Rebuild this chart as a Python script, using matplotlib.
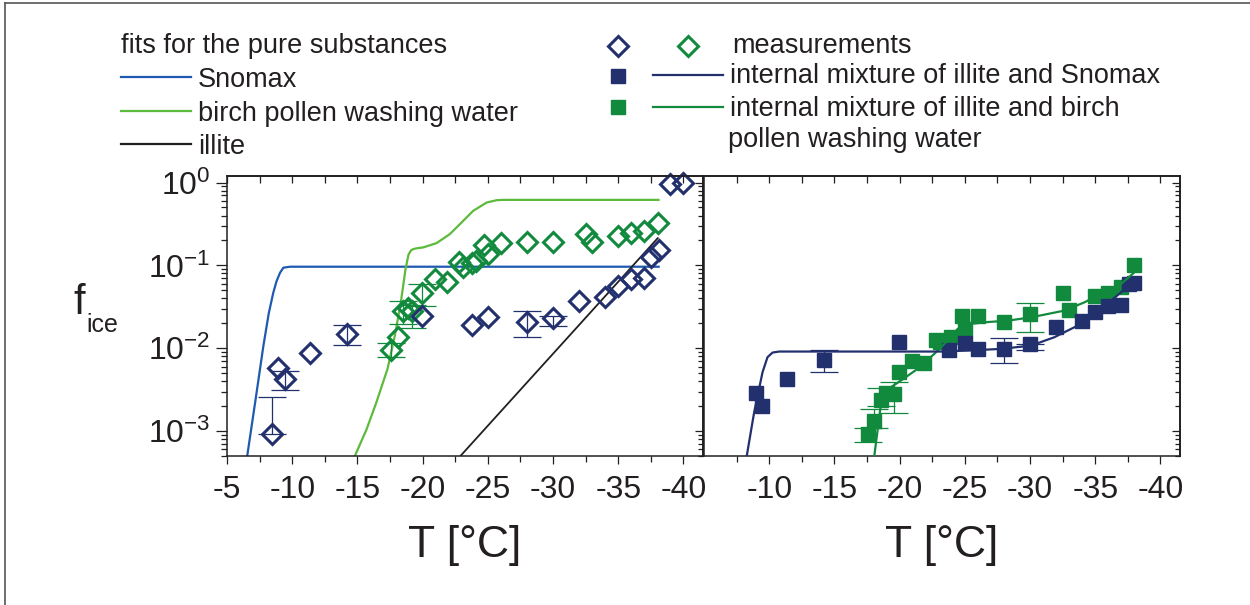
import numpy as np
import matplotlib
matplotlib.use('Agg')
import matplotlib.pyplot as plt
from matplotlib.lines import Line2D
from matplotlib.ticker import LogLocator, FixedLocator, NullFormatter

plt.rcParams['font.family'] = ['Liberation Sans', 'DejaVu Sans']
plt.rcParams['mathtext.fontset'] = 'custom'
plt.rcParams['mathtext.rm'] = 'Liberation Sans'
plt.rcParams['mathtext.default'] = 'regular'
plt.rcParams['axes.unicode_minus'] = False

TXT = '#231f20'
NAVY = '#23306e'
GREEN = '#128a3e'
SNOMAX = '#1e5bb0'
BIRCH = '#5cba3c'

## measurements, pure substances (left panel)
snomax_T = [-8.45, -8.9, -9.43, -11.35, -14.24, -19.97, -23.8, -24.98, -27.98, -29.97,
            -31.99, -33.99, -35.0, -35.99, -37.0, -37.5, -38.1, -38.98, -40.0]
snomax_f = [9.1e-4, 5.8e-3, 4.2e-3, 8.7e-3, 0.0149, 0.0245, 0.0191, 0.0241, 0.021, 0.023,
            0.0372, 0.0419, 0.0569, 0.0685, 0.0704, 0.125, 0.153, 0.97, 0.99]
snomax_errT = [-8.45, -9.43, -14.24, -27.98, -29.97]
snomax_lo = [9.1e-4, 3.1e-3, 0.0108, 0.0136, 0.0188]
snomax_hi = [2.6e-3, 5.3e-3, 0.0191, 0.0279, 0.0247]

birch_T = [-17.56, -18.08, -18.46, -18.9, -19.15, -19.97, -20.94, -21.9, -22.78, -23.07,
           -23.8, -24.06, -24.7, -25.0, -26.0, -27.98, -29.97, -32.5, -33.0, -35.0,
           -36.0, -37.0, -38.03]
birch_f = [0.0095, 0.0138, 0.0284, 0.0303, 0.0284, 0.046, 0.0685, 0.0636, 0.111, 0.0946,
           0.106, 0.114, 0.176, 0.137, 0.186, 0.193, 0.193, 0.239, 0.193, 0.228,
           0.243, 0.257, 0.324]
birch_errT = [-17.56, -18.46, -19.15, -19.97]
birch_lo = [7.8e-3, 0.0197, 0.0174, 0.0327]
birch_hi = [0.0117, 0.0375, 0.0330, 0.0594]

## fits for the pure substances (log10 f_ice)
fit_snomax_T = [-6.4, -6.56, -7.2, -7.79, -8.2, -8.55, -8.8, -9.07, -9.32, -9.83, -38.1]
fit_snomax_lg = [-3.46, -3.29, -2.61, -1.972, -1.58, -1.329, -1.19, -1.088, -1.028, -1.016, -1.016]
fit_birch_T = [-14.6, -14.85, -15.7, -16.46, -17.31, -17.87, -18.33, -18.69, -18.92, -19.1,
               -19.28, -19.6, -20.05, -21.07, -22.09, -22.86, -23.88, -24.91, -25.68, -26.19, -38.09]
fit_birch_lg = [-3.41, -3.285, -2.98, -2.651, -2.249, -1.847, -1.446, -1.044, -0.87, -0.82,
                -0.803, -0.792, -0.783, -0.731, -0.622, -0.502, -0.341, -0.241, -0.213, -0.209, -0.209]
fit_illite_T = [-22.6, -38.03]
fit_illite_lg = [-3.353, -0.671]

## internal mixtures (right panel)
mixS_T = [-8.98, -9.44, -11.36, -14.22, -19.97, -23.81, -25.01, -25.98, -27.98, -30.03,
          -32.0, -33.99, -35.01, -36.01, -36.98, -37.57, -38.0]
mixS_f = [2.9e-3, 2.0e-3, 4.2e-3, 7.3e-3, 0.012, 9.4e-3, 0.0116, 9.8e-3, 9.8e-3, 0.0113,
          0.0179, 0.0211, 0.0272, 0.0327, 0.0333, 0.0596, 0.0612]
mixS_errT = [-14.22, -27.98, -30.03]
mixS_lo = [5.1e-3, 6.7e-3, 9.4e-3]
mixS_hi = [9.4e-3, 0.0133, 0.0113]

mixB_T = [-17.6, -18.06, -18.57, -18.95, -19.54, -19.97, -20.95, -21.84, -22.79, -23.1,
          -23.94, -24.76, -25.01, -25.98, -27.98, -30.03, -32.51, -33.02, -35.01, -36.01,
          -36.98, -38.0]
mixB_f = [9.3e-4, 1.32e-3, 2.4e-3, 2.9e-3, 2.8e-3, 5.2e-3, 7.1e-3, 6.7e-3, 0.0124, 0.0118,
          0.0136, 0.0248, 0.0171, 0.0248, 0.0206, 0.0259, 0.0464, 0.0292, 0.0431, 0.0464,
          0.0543, 0.102]
mixB_errT = [-17.6, -18.06, -18.57, -19.54, -30.03]
mixB_lo = [7.4e-4, 1.1e-3, 2.0e-3, 1.65e-3, 0.0158]
mixB_hi = [1.1e-3, 1.86e-3, 3.3e-3, 3.9e-3, 0.0348]

fit_mixS_T = [-8.16, -8.85, -9.49, -9.87, -10.26, -10.77, -23.17, -25.22, -27.78, -30.08,
              -31.87, -33.91, -35.45, -36.98, -38.0]
fit_mixS_lg = [-3.41, -2.77, -2.289, -2.108, -2.052, -2.04, -2.04, -2.028, -2.008, -1.968,
               -1.867, -1.707, -1.526, -1.325, -1.165]
fit_mixB_T = [-18.0, -18.26, -18.52, -18.82, -19.34, -20.1, -21.38, -22.66, -23.68, -24.45,
              -25.22, -26.5, -28.29, -30.08, -32.63, -34.17, -35.45, -36.98, -38.0]
fit_mixB_lg = [-3.373, -3.052, -2.731, -2.57, -2.47, -2.39, -2.249, -2.068, -1.908, -1.767,
               -1.711, -1.687, -1.667, -1.627, -1.546, -1.446, -1.345, -1.225, -1.084]

xticks_left = [-5, -10, -15, -20, -25, -30, -35, -40]
xticks_right = [-10, -15, -20, -25, -30, -35, -40]
yticks = [1e-3, 1e-2, 1e-1, 1e0]
ylabels = [r'$10^{-3}$', r'$10^{-2}$', r'$10^{-1}$', r'$10^{0}$']

W, H = 1250, 605
fig = plt.figure(figsize=(12.5, 6.05), dpi=100)


def fx(x):
    return x / W


def fy(y):
    return 1 - y / H


ax1 = fig.add_axes([fx(227), fy(456), 476 / W, 280 / H])
ax2 = fig.add_axes([fx(704), fy(456), 476 / W, 280 / H])


def errs(ax, T, lo, hi, col):
    T = np.array(T)
    lo = np.array(lo)
    hi = np.array(hi)
    mid = np.sqrt(lo * hi)
    ax.errorbar(T, mid, yerr=[mid - lo, hi - mid], fmt='none', ecolor=col,
                elinewidth=0.9, capsize=10, capthick=0.9)


def style(ax, xticks, left_labels):
    ax.set_yscale('log')
    ax.set_xlim(-5, -41.5)
    ax.set_ylim(5e-4, 1.2)
    for s in ax.spines.values():
        s.set_linewidth(1.1)
        s.set_color(TXT)
    minors = FixedLocator(np.arange(-7.5, -42, -5))
    ax.set_xticks(xticks)
    ax.set_xticklabels([str(t) for t in xticks])
    ax.xaxis.set_minor_locator(minors)
    ax.tick_params(axis='x', which='major', direction='out', length=6, width=0.9,
                   labelsize=23, colors=TXT, pad=8, top=False)
    ax.tick_params(axis='x', which='minor', direction='out', length=4.5, width=0.9,
                   colors=TXT, top=False)
    ax.set_xlabel('T [°C]', fontsize=32, color=TXT, labelpad=14)

    ax.yaxis.set_minor_locator(LogLocator(base=10, subs=np.arange(2, 10)))
    ax.yaxis.set_minor_formatter(NullFormatter())
    ax.set_yticks(yticks)
    if left_labels:
        ax.set_yticklabels(ylabels)
        ax.tick_params(axis='y', which='major', direction='out', length=8, width=0.9,
                       labelsize=23, colors=TXT, pad=4, right=False)
        ax.tick_params(axis='y', which='minor', direction='out', length=4, width=0.9,
                       colors=TXT, right=False)
    else:
        ax.tick_params(axis='y', which='both', left=False, right=False,
                       labelleft=False)

    # inward ticks on top
    top = ax.secondary_xaxis('top')
    top.set_xticks(xticks)
    top.xaxis.set_minor_locator(FixedLocator(np.arange(-7.5, -42, -5)))
    top.tick_params(axis='x', which='major', direction='in', length=5, width=0.9,
                    labeltop=False, colors=TXT)
    top.tick_params(axis='x', which='minor', direction='in', length=5, width=0.9,
                    colors=TXT)
    top.spines['top'].set_linewidth(1.1)

    # inward ticks on the right
    rt = ax.secondary_yaxis('right')
    rt.set_yticks(yticks)
    rt.yaxis.set_minor_locator(LogLocator(base=10, subs=np.arange(2, 10)))
    rt.yaxis.set_minor_formatter(NullFormatter())
    rt.tick_params(axis='y', which='major', direction='in', length=6, width=0.9,
                   labelright=False, colors=TXT)
    rt.tick_params(axis='y', which='minor', direction='in', length=3.5, width=0.9,
                   colors=TXT)
    rt.spines['right'].set_linewidth(1.1)


style(ax1, xticks_left, True)
style(ax2, xticks_right, False)

# left panel: fits
ax1.plot(fit_snomax_T, 10 ** np.array(fit_snomax_lg), color=SNOMAX, lw=1.6)
ax1.plot(fit_birch_T, 10 ** np.array(fit_birch_lg), color=BIRCH, lw=1.6)
ax1.plot(fit_illite_T, 10 ** np.array(fit_illite_lg), color=TXT, lw=1.3)

# left panel: measurements
errs(ax1, birch_errT, birch_lo, birch_hi, GREEN)
errs(ax1, snomax_errT, snomax_lo, snomax_hi, NAVY)
ax1.plot(birch_T, birch_f, 'D', ms=10.5, mfc='none', mec=GREEN, mew=2.2, clip_on=False)
ax1.plot(snomax_T, snomax_f, 'D', ms=10.5, mfc='none', mec=NAVY, mew=2.2, clip_on=False)

# right panel
ax2.plot(fit_mixB_T, 10 ** np.array(fit_mixB_lg), color=GREEN, lw=1.6, zorder=3)
ax2.plot(fit_mixS_T, 10 ** np.array(fit_mixS_lg), color=NAVY, lw=1.6, zorder=3)
errs(ax2, mixB_errT, mixB_lo, mixB_hi, GREEN)
errs(ax2, mixS_errT, mixS_lo, mixS_hi, NAVY)
ax2.plot(mixB_T, mixB_f, 's', ms=10.5, color=GREEN, mec=GREEN, zorder=2)
ax2.plot(mixS_T, mixS_f, 's', ms=10.5, color=NAVY, mec=NAVY, zorder=2.5)

# y label
fig.text(fx(73), fy(314), 'f', fontsize=30, color=TXT, ha='left', va='baseline')
fig.text(fx(86), fy(332), 'ice', fontsize=18, color=TXT, ha='left', va='baseline')

# legend, left block
fs = 19.5
fig.text(fx(121), fy(53), 'fits for the pure substances', fontsize=fs, color=TXT)
for yy, col, lab in [(77, SNOMAX, 'Snomax'), (111, BIRCH, 'birch pollen washing water'),
                     (144, TXT, 'illite')]:
    fig.add_artist(Line2D([fx(121), fx(191)], [fy(yy), fy(yy)], color=col, lw=1.6))
    fig.text(fx(198), fy(yy + 10), lab, fontsize=fs, color=TXT)

# legend, right block
fig.add_artist(Line2D([fx(618)], [fy(46)], marker='D', ms=10, mfc='none', mec=NAVY, mew=2.2))
fig.add_artist(Line2D([fx(688)], [fy(46)], marker='D', ms=10, mfc='none', mec=GREEN, mew=2.2))
fig.text(fx(732), fy(53), 'measurements', fontsize=fs, color=TXT)
fig.add_artist(Line2D([fx(618)], [fy(76)], marker='s', ms=9.5, color=NAVY))
fig.add_artist(Line2D([fx(653), fx(723)], [fy(75), fy(75)], color=NAVY, lw=1.6))
fig.text(fx(730), fy(83), 'internal mixture of illite and Snomax', fontsize=fs, color=TXT)
fig.add_artist(Line2D([fx(618)], [fy(107)], marker='s', ms=9.5, color=GREEN))
fig.add_artist(Line2D([fx(653), fx(723)], [fy(107), fy(107)], color=GREEN, lw=1.6))
fig.text(fx(730), fy(116), 'internal mixture of illite and birch', fontsize=fs, color=TXT)
fig.text(fx(728), fy(147), 'pollen washing water', fontsize=fs, color=TXT)

# frame lines of the figure
fig.add_artist(Line2D([fx(5), 1], [fy(3), fy(3)], color='#555555', lw=1.2))
fig.add_artist(Line2D([fx(5), fx(5)], [0, fy(3)], color='#555555', lw=1.2))

fig.savefig('out.png', dpi=100)
